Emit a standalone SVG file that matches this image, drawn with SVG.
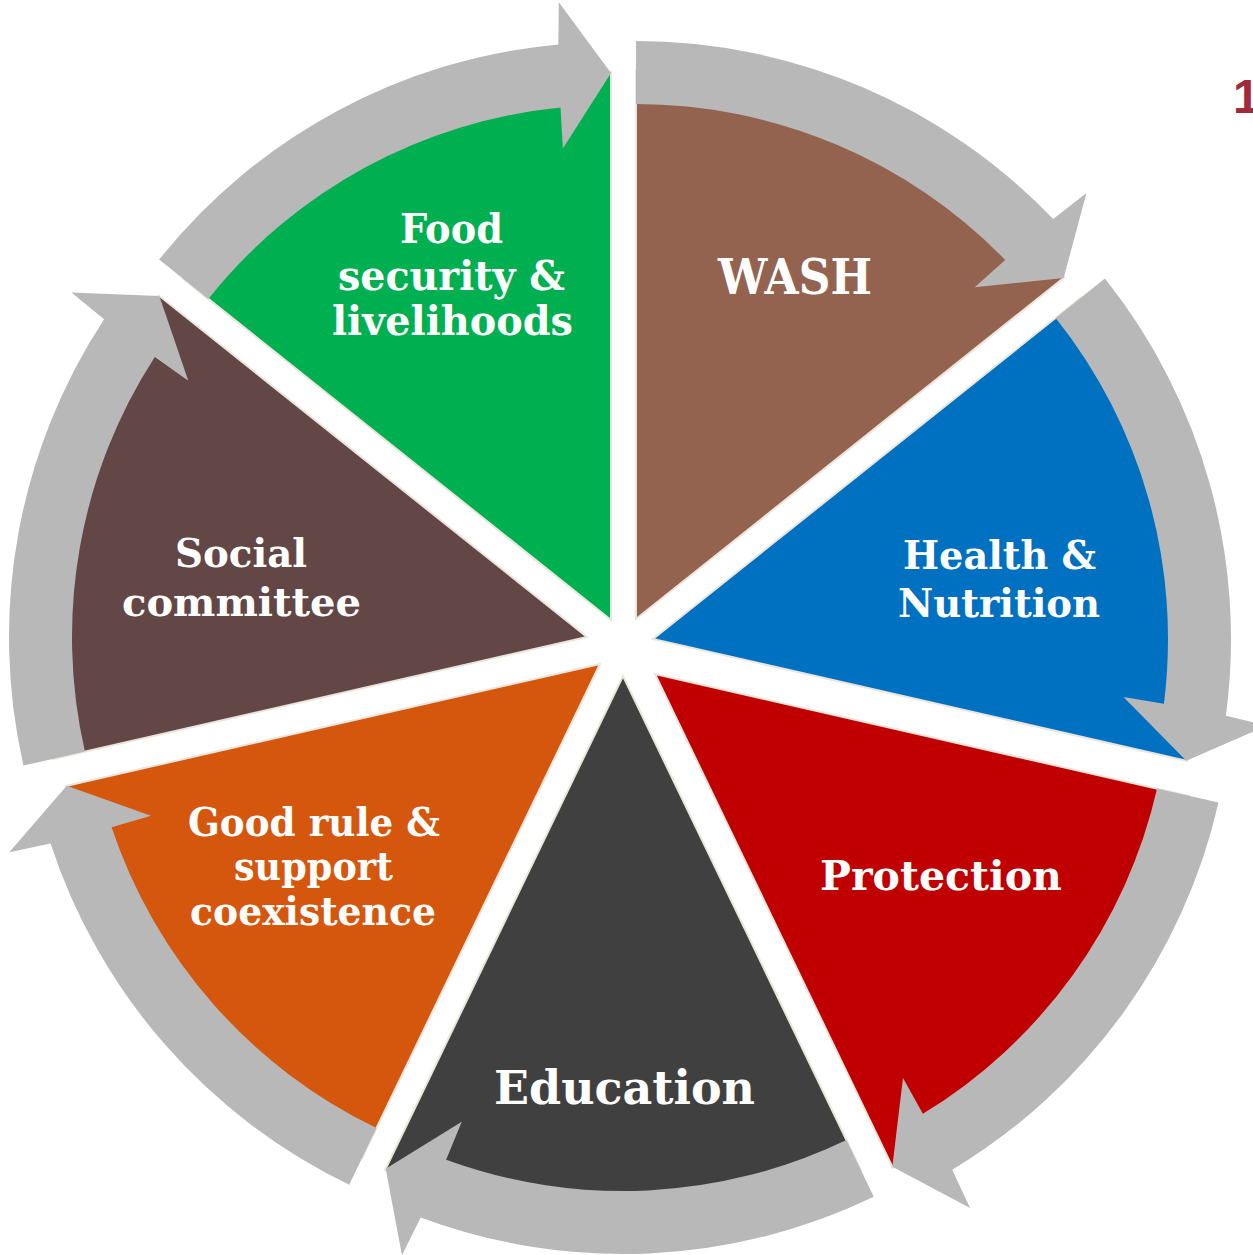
<svg xmlns="http://www.w3.org/2000/svg" xmlns:xlink="http://www.w3.org/1999/xlink" width="1253" height="1255" viewBox="0 0 1253 1255">
<style>
.sec{stroke:#ebe6dd;stroke-width:2;stroke-linejoin:miter}
.arr{fill:#b8b8b8}
.lbl{font-family:"DejaVu Serif","Liberation Serif",serif;font-weight:bold;fill:#ffffff;text-anchor:middle}
</style>
<defs>
<path id="sector" d="M0,0 L0,-548 A548,548 0 0 1 428.44,-341.67 Z"/>
<path id="arrow" d="M0,-578 A578,578 0 0 1 417.18,-400.06 L450.47,-426.00 L427.66,-341.05 L338.66,-331.64 L369.21,-359.04 A515,515 0 0 0 0,-515 Z"/>
</defs>
<rect width="1253" height="1255" fill="#ffffff"/>
<g id="connectors"/>
<g id="wash">
<use xlink:href="#sector" class="sec" fill="#94634f" transform="translate(636,619) rotate(0)"/>
<use xlink:href="#arrow" class="arr" transform="translate(636,619) rotate(0)"/>
<text class="lbl" x="795" y="294" font-size="49" textLength="154" lengthAdjust="spacingAndGlyphs">WASH</text>
</g>
<g id="health">
<use xlink:href="#sector" class="sec" fill="#0070c0" transform="translate(653,639) rotate(51.4286)"/>
<use xlink:href="#arrow" class="arr" transform="translate(653,639) rotate(51.4286)"/>
<text class="lbl" x="999.5" y="569" font-size="39" textLength="193" lengthAdjust="spacingAndGlyphs">Health &amp;</text>
<text class="lbl" x="999" y="617" font-size="39" textLength="202" lengthAdjust="spacingAndGlyphs">Nutrition</text>
</g>
<g id="protection">
<use xlink:href="#sector" class="sec" fill="#c00000" transform="translate(655,674) rotate(102.8571)"/>
<use xlink:href="#arrow" class="arr" transform="translate(655,674) rotate(102.8571)"/>
<text class="lbl" x="941" y="890" font-size="41" textLength="242" lengthAdjust="spacingAndGlyphs">Protection</text>
</g>
<g id="education">
<use xlink:href="#sector" class="sec" fill="#404040" transform="translate(623,676) rotate(154.2857)"/>
<use xlink:href="#arrow" class="arr" transform="translate(623,676) rotate(154.2857)"/>
<text class="lbl" x="624.5" y="1104" font-size="47" textLength="261" lengthAdjust="spacingAndGlyphs">Education</text>
</g>
<g id="goodrule">
<use xlink:href="#sector" class="sec" fill="#d5560d" transform="translate(600,664) rotate(205.7143)"/>
<use xlink:href="#arrow" class="arr" transform="translate(600,664) rotate(205.7143)"/>
<text class="lbl" x="314" y="836" font-size="39" textLength="252" lengthAdjust="spacingAndGlyphs">Good rule &amp;</text>
<text class="lbl" x="313.5" y="880" font-size="39" textLength="159" lengthAdjust="spacingAndGlyphs">support</text>
<text class="lbl" x="313" y="925" font-size="39" textLength="246" lengthAdjust="spacingAndGlyphs">coexistence</text>
</g>
<g id="social">
<use xlink:href="#sector" class="sec" fill="#634646" transform="translate(587,637) rotate(257.1429)"/>
<use xlink:href="#arrow" class="arr" transform="translate(587,637) rotate(257.1429)"/>
<text class="lbl" x="241" y="567" font-size="38.5" textLength="132" lengthAdjust="spacingAndGlyphs">Social</text>
<text class="lbl" x="241.5" y="616" font-size="38.5" textLength="239" lengthAdjust="spacingAndGlyphs">committee</text>
</g>
<g id="food">
<use xlink:href="#sector" class="sec" fill="#00b050" transform="translate(611,620) rotate(308.5714)"/>
<use xlink:href="#arrow" class="arr" transform="translate(611,620) rotate(308.5714)"/>
<text class="lbl" x="451.5" y="243" font-size="41" textLength="103" lengthAdjust="spacingAndGlyphs">Food</text>
<text class="lbl" x="451.5" y="290" font-size="41" textLength="227" lengthAdjust="spacingAndGlyphs">security &amp;</text>
<text class="lbl" x="452.5" y="335" font-size="41" textLength="241" lengthAdjust="spacingAndGlyphs">livelihoods</text>
</g>
<text id="num" x="1233" y="113" font-family="Liberation Sans, Arial, sans-serif" font-weight="bold" font-size="48" fill="#a0293b">1</text>
</svg>
